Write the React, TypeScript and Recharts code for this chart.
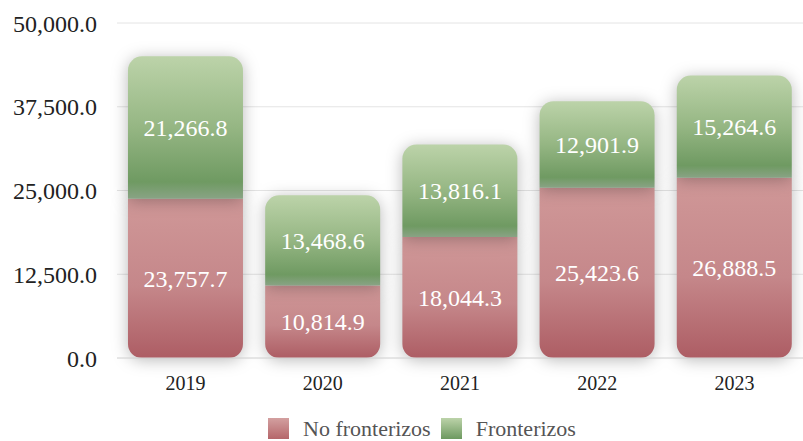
import { BarChart, Bar, XAxis, YAxis, CartesianGrid, LabelList } from "recharts";

const years = ["2019", "2020", "2021", "2022", "2023"];
const noFronterizos = [23757.7, 10814.9, 18044.3, 25423.6, 26888.5];
const fronterizos = [21266.8, 13468.6, 13816.1, 12901.9, 15264.6];
const yTicks = [0, 12500, 25000, 37500, 50000];

const data = years.map((y, i) => ({ year: y, noFront: noFronterizos[i], front: fronterizos[i] }));

const FONT = "Liberation Serif, DejaVu Serif, serif";
const fmt = (v: number) =>
  Number(v).toLocaleString("en-US", { minimumFractionDigits: 1, maximumFractionDigits: 1 });

function LegendBox() {
  const item = (label: string, bg: string) => (
    <div style={{ display: "flex", alignItems: "center", marginRight: 10 }}>
      <div style={{ width: 21, height: 21, background: bg, marginRight: 14 }} />
      <span style={{ fontSize: 22, lineHeight: "21px", color: "#555", fontFamily: FONT }}>{label}</span>
    </div>
  );
  return (
    <div style={{ position: "absolute", left: 268, top: 418, display: "flex" }}>
      {item("No fronterizos", "linear-gradient(#d3a0a0, #b5666a)")}
      {item("Fronterizos", "linear-gradient(#bcd3a9, #6d9960)")}
    </div>
  );
}

export default function App() {
  return (
    <div style={{ position: "absolute", left: 0, top: 0, width: 803, height: 441, background: "#fff", fontFamily: FONT }}>
      <style>{`.recharts-bar-rectangles { filter: drop-shadow(0px 2px 8px rgba(0,0,0,0.28)); } .recharts-text { font-family: ${FONT}; }`}</style>
      <BarChart
        width={803}
        height={441}
        data={data}
        margin={{ top: 23, right: 0, left: 0, bottom: 53 }}
        barCategoryGap="8%"
      >
        <defs>
          <linearGradient id="gRed" x1="0" y1="0" x2="0" y2="1">
            <stop offset="0%" stopColor="#d09898" />
            <stop offset="55%" stopColor="#c5878a" />
            <stop offset="100%" stopColor="#ad5d64" />
          </linearGradient>
          <linearGradient id="gGreen" x1="0" y1="0" x2="0" y2="1">
            <stop offset="0%" stopColor="#bcd3a9" />
            <stop offset="50%" stopColor="#95b683" />
            <stop offset="88%" stopColor="#6f9a62" />
            <stop offset="100%" stopColor="#89a385" />
          </linearGradient>
        </defs>
        <CartesianGrid vertical={false} stroke="#e4e4e4" />
        <XAxis
          dataKey="year"
          axisLine={{ stroke: "#dcdcdc" }}
          tickLine={false}
          tickMargin={12}
          tick={{ fill: "#222", fontSize: 20, fontFamily: FONT }}
        />
        <YAxis
          width={117}
          domain={[0, 50000]}
          ticks={yTicks}
          tickFormatter={fmt}
          axisLine={false}
          tickLine={false}
          tickSize={0}
          tickMargin={20}
          tick={{ fill: "#222", fontSize: 24, fontFamily: FONT }}
        />
        <Bar dataKey="noFront" name="No fronterizos" stackId="a" fill="url(#gRed)" radius={[0, 0, 14, 14]} isAnimationActive={false}>
          <LabelList dataKey="noFront" position="center" formatter={fmt} fill="#fff" fontSize={24} fontFamily={FONT} />
        </Bar>
        <Bar dataKey="front" name="Fronterizos" stackId="a" fill="url(#gGreen)" radius={[14, 14, 0, 0]} isAnimationActive={false}>
          <LabelList dataKey="front" position="center" formatter={fmt} fill="#fff" fontSize={24} fontFamily={FONT} />
        </Bar>
      </BarChart>
      <LegendBox />
    </div>
  );
}
